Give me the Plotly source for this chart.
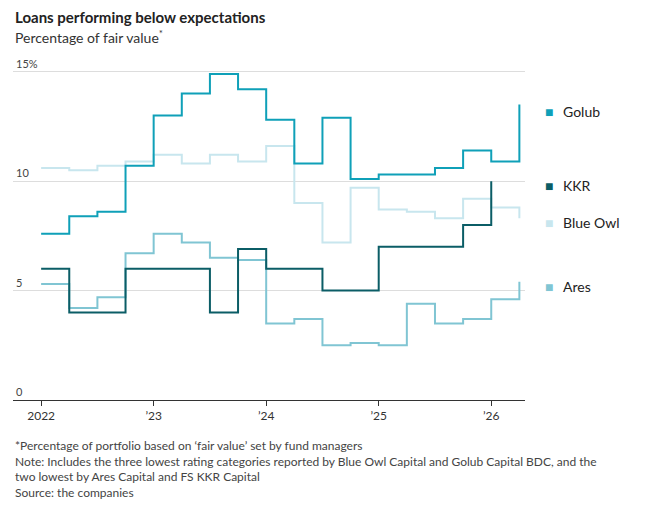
import plotly.graph_objects as go


def plot_loans(series, colors, label_pos):
    fig = go.Figure()

    for name, (x, y) in series.items():
        fig.add_trace(go.Scatter(
            x = x, y = y, mode = "lines", line_shape = "hv",
            line = {"color": colors[name], "width": 2},
            name = name, showlegend = False,
        ))

    # legend on the right as labels
    for name, pos in label_pos.items():
        fig.add_annotation(x = 1.035, y = pos, xref = "paper", yref = "y", text = "■",
                           showarrow = False, xanchor = "left",
                           font = {"color": colors[name], "size": 14})
        fig.add_annotation(x = 1.07, y = pos, xref = "paper", yref = "y", text = name,
                           showarrow = False, xanchor = "left",
                           font = {"color": "#222", "size": 14})

    fig.add_annotation(x = 0, y = 1.0, xref = "paper", yref = "paper", yanchor = "bottom",
                       xanchor = "left", yshift = 24, showarrow = False,
                       text = "<b>Loans performing below expectations</b>",
                       font = {"size": 15, "color": "#222"})
    fig.add_annotation(x = 0, y = 1.0, xref = "paper", yref = "paper", yanchor = "bottom",
                       xanchor = "left", yshift = 4, showarrow = False,
                       text = "Percentage of fair value<sup>*</sup>",
                       font = {"size": 14, "color": "#333"})
    fig.add_annotation(x = 0, y = 0, xref = "paper", yref = "paper", yanchor = "top",
                       xanchor = "left", yshift = -36, showarrow = False, align = "left",
                       text = ("*Percentage of portfolio based on ‘fair value’ set by fund managers<br>"
                               "Note: Includes the three lowest rating categories reported by Blue Owl Capital and Golub Capital BDC, and the<br>"
                               "two lowest by Ares Capital and FS KKR Capital<br>"
                               "Source: the companies"),
                       font = {"size": 12, "color": "#444"})

    fig.update_layout(
            width = 657, height = 511,
            margin = {"l": 5, "r": 140, "t": 44, "b": 119},
            plot_bgcolor = "white", paper_bgcolor = "white",
            font = {"family": "Lato", "color": "#333"},
            xaxis = {"range": [2021.75, 2026.3], "tickvals": [2022, 2023, 2024, 2025, 2026],
                     "ticktext": ["2022", "’23", "’24", "’25", "’26"], "ticks": "outside",
                     "ticklen": 5, "tickcolor": "#333", "showgrid": False,
                     "showline": True, "linecolor": "#333", "tickfont": {"size": 12}},
            yaxis = {"range": [0, 15.9], "tickvals": [0, 5, 10, 15],
                     "ticktext": ["0", "5", "10", "15%"], "ticklabelposition": "inside top",
                     "gridcolor": "#ddd", "zeroline": False, "tickfont": {"size": 11}},
    )
    return fig


q = [2022 + i * 0.25 for i in range(18)]
series = {
    "Golub": (q, [7.6, 8.4, 8.6, 10.7, 13.0, 14.0, 14.9, 14.2, 12.8, 10.8, 12.9, 10.1,
                  10.3, 10.3, 10.6, 11.4, 10.9, 13.5]),
    "KKR": (q[:17], [6.0, 4.0, 4.0, 6.0, 6.0, 6.0, 4.0, 6.9, 6.0, 6.0, 5.0, 5.0,
                     7.0, 7.0, 7.0, 8.0, 10.0]),
    "Blue Owl": (q, [10.6, 10.5, 10.7, 10.9, 11.2, 10.8, 11.2, 10.9, 11.6, 9.0, 7.2, 9.7,
                     8.7, 8.6, 8.3, 9.2, 8.8, 8.3]),
    "Ares": (q, [5.3, 4.2, 4.7, 6.7, 7.6, 7.2, 6.5, 6.4, 3.5, 3.7, 2.5, 2.6,
                 2.5, 4.4, 3.5, 3.7, 4.6, 5.4]),
}
colors = {"Golub": "#0fa0b8", "KKR": "#0b5d66", "Blue Owl": "#c8e6ee", "Ares": "#80c5d3"}
label_pos = {"Golub": 13.2, "KKR": 9.8, "Blue Owl": 8.1, "Ares": 5.2}

# draw lighter lines first
order = ["Blue Owl", "Ares", "KKR", "Golub"]
fig = plot_loans({k: series[k] for k in order}, colors, label_pos)
fig.write_html("out.html")
